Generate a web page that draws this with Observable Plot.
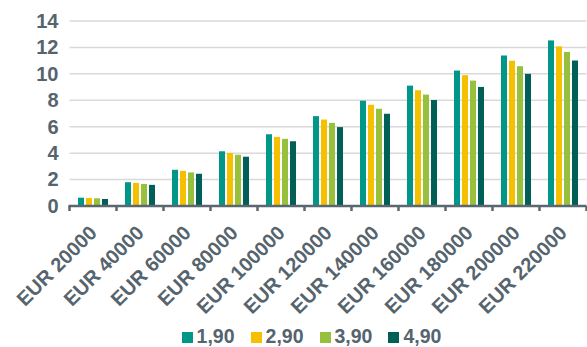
<!DOCTYPE html>
<html>
<head>
<meta charset="utf-8">
<script src="https://cdn.jsdelivr.net/npm/d3@7"></script>
<script src="https://cdn.jsdelivr.net/npm/@observablehq/plot@0.6"></script>
<style>
  html, body { margin: 0; padding: 0; background: #fff; }
  body { width: 587px; height: 347px; overflow: hidden; font-family: "Liberation Sans", Arial, sans-serif; }
  #legend { display: flex; justify-content: center; padding-left: 36px; gap: 16px; height: 22px; align-items: center;
    font-size: 19.5px; font-weight: bold; color: #56646e; line-height: 22px; }
  #legend .item { display: flex; align-items: center; gap: 4px; }
  #legend .sw { width: 11px; height: 11px; display: inline-block; margin-top: 2px; }
</style>
</head>
<body>
<div id="chart"></div>
<div id="legend"></div>
<script>
const categories = ["EUR 20000","EUR 40000","EUR 60000","EUR 80000","EUR 100000","EUR 120000","EUR 140000","EUR 160000","EUR 180000","EUR 200000","EUR 220000"];
const series = ["1,90","2,90","3,90","4,90"];
const values_190 = [0.63, 1.80, 2.74, 4.14, 5.43, 6.80, 7.97, 9.11, 10.25, 11.39, 12.53];
const values_290 = [0.61, 1.75, 2.66, 4.01, 5.23, 6.54, 7.66, 8.76, 9.90, 10.99, 12.08];
const values_390 = [0.58, 1.67, 2.54, 3.88, 5.08, 6.29, 7.36, 8.43, 9.49, 10.58, 11.66];
const values_490 = [0.53, 1.60, 2.44, 3.73, 4.90, 5.97, 6.98, 8.02, 9.01, 10.00, 11.01];
const yTicks = [0, 2, 4, 6, 8, 10, 12, 14];
const colors = ["#009688", "#f4c000", "#97c13c", "#005f57"];

const seriesValues = [values_190, values_290, values_390, values_490];
const data = [];
categories.forEach((c, i) => series.forEach((s, j) => data.push({cat: c, series: s, value: seriesValues[j][i]})));

const textColor = "#56646e";
const axisColor = "#5b6770";
const chart = Plot.plot({
  width: 587,
  height: 325,
  marginLeft: 69,
  marginRight: 0,
  marginTop: 21,
  marginBottom: 119,
  style: {fontFamily: "Liberation Sans, Arial, sans-serif", background: "#fff"},
  fx: {domain: categories, paddingInner: 0.31, paddingOuter: 0.155, label: null},
  x: {domain: series, paddingInner: 0.22, paddingOuter: 0, axis: null},
  y: {domain: [0, 14], label: null},
  color: {domain: series, range: colors},
  marks: [
    Plot.barY(data, {fx: "cat", x: "series", y: "value", fill: "series"}),
    Plot.axisY({ticks: yTicks, tickSize: 0, tickPadding: 19, fontSize: 20, fontWeight: "bold", fill: textColor, label: null}),
    Plot.axisFx({anchor: "bottom", tickSize: 0, tickRotate: -45, tickPadding: 23, dx: 0, fontSize: 20, fontWeight: "bold", fill: textColor, label: null})
  ]
});
document.getElementById("chart").appendChild(chart);

// continuous gridlines, baseline and group boundary ticks, from the chart's scales
const fx = chart.scale("fx");
const y = chart.scale("y");
const half = (fx.step - fx.bandwidth) / 2;
const bounds = categories.map(c => fx.apply(c) - half);
bounds.push(fx.apply(categories[categories.length - 1]) + fx.bandwidth + half);
const svg = d3.select(chart);
svg.insert("g", "g").attr("stroke", "#d9d9d9").attr("stroke-width", 1.5)
  .selectAll("line").data(yTicks.filter(d => d > 0)).join("line")
  .attr("x1", bounds[0]).attr("x2", bounds[bounds.length - 1])
  .attr("y1", d => y.apply(d)).attr("y2", d => y.apply(d));
const y0 = y.apply(0);
const base = svg.append("g").attr("stroke", axisColor).attr("stroke-width", 2.5);
base.append("line").attr("x1", bounds[0] - 1).attr("x2", bounds[bounds.length - 1]).attr("y1", y0).attr("y2", y0);
base.selectAll("line.t").data(bounds).join("line").attr("class", "t")
  .attr("x1", d => d).attr("x2", d => d).attr("y1", y0).attr("y2", y0 + 5);

const legend = d3.select("#legend");
series.forEach((s, i) => {
  const it = legend.append("div").attr("class", "item");
  it.append("span").attr("class", "sw").style("background", colors[i]);
  it.append("span").text(s);
});
</script>
</body>
</html>
